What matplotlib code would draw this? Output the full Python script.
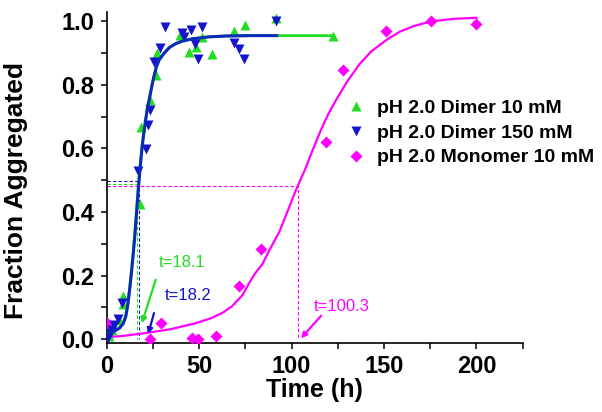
import numpy as np
import matplotlib
matplotlib.use('Agg')
import matplotlib.pyplot as plt
from matplotlib.ticker import MultipleLocator

plt.rcParams['font.family'] = ['Liberation Sans', 'DejaVu Sans']

GREEN = '#22dd22'
BLUE = '#1414cc'
MAGENTA = '#ff00ff'

# measured points
dimer10_t = [1.2, 3, 6.7, 9, 9, 18.1, 18.6, 23.3, 26.6, 27.4, 39.7, 44.6, 48.2,
             51.8, 56.7, 68.6, 74.6, 91.6, 122.3]
dimer10_f = [0.01, 0.03, 0.06, 0.11, 0.135, 0.424, 0.667, 0.753, 0.83, 0.90,
             0.957, 0.904, 0.92, 0.951, 0.897, 0.968, 0.987, 1.01, 0.955]

dimer150_t = [0.5, 1.5, 2.7, 4, 6, 8.5, 17.2, 21.5, 22.5, 23.5, 25.6, 28.7, 31.4,
              40.6, 41.9, 45.5, 47.7, 49.5, 51.3, 68.6, 71.7, 74.4, 91.6]
dimer150_f = [0.005, 0.02, 0.03, 0.045, 0.065, 0.115, 0.53, 0.597, 0.674, 0.722,
              0.873, 0.917, 0.983, 0.962, 0.952, 0.973, 0.928, 0.88, 0.981,
              0.933, 0.912, 0.88, 1.0]

mono_t = [0, 1, 23.3, 29.3, 46.4, 49.5, 59.1, 71.7, 83.5, 118.7, 127.7, 151.2,
          175.2, 199.6]
mono_f = [0.052, 0.02, 0.0, 0.05, 0.003, 0.0, 0.011, 0.168, 0.283, 0.621, 0.847,
          0.970, 1.002, 0.991]

# fitted curves
fit10_t = [0, 4, 7, 9, 10.3, 11.5, 12.6, 13.5, 14.4, 15.3, 16.2, 17.1, 18.1, 19.0,
           20.0, 21.1, 22.0, 22.9, 24.4, 25.5, 26.9, 28.5, 31.1, 34, 37.4, 41,
           46.4, 55, 65.4, 78, 92, 105, 122.3]
fit10_f = [0.02, 0.025, 0.037, 0.053, 0.075, 0.115, 0.17, 0.222, 0.278, 0.34,
           0.41, 0.48, 0.548, 0.6, 0.648, 0.692, 0.727, 0.752, 0.797, 0.826,
           0.858, 0.88, 0.90, 0.918, 0.93, 0.938, 0.945, 0.951, 0.954, 0.955,
           0.955, 0.955, 0.955]

fit150_t = [0, 4, 7, 9, 10.3, 11.5, 12.6, 13.5, 14.4, 15.3, 16.2, 17.1, 18.1, 19.0,
            20.0, 21.1, 22.0, 22.9, 24.4, 25.5, 26.9, 28.5, 31.1, 34, 37.4, 41,
            46.4, 55, 65.4, 78, 92]
fit150_f = [0.02, 0.025, 0.035, 0.05, 0.07, 0.11, 0.165, 0.215, 0.27, 0.33, 0.40,
            0.47, 0.54, 0.595, 0.645, 0.69, 0.725, 0.75, 0.795, 0.825, 0.857,
            0.88, 0.90, 0.918, 0.93, 0.938, 0.945, 0.951, 0.954, 0.955, 0.955]

fitmono_t = [0, 10, 23, 35, 48, 56, 63, 68, 73.5, 77, 80, 84.3, 88, 93.4, 98, 102.4,
             107, 111.4, 116, 120, 124.1, 130, 136.7, 143, 151.2, 158.4, 166,
             175.6, 188, 200]
fitmono_f = [0.006, 0.011, 0.021, 0.032, 0.05, 0.065, 0.084, 0.105, 0.139, 0.176,
             0.205, 0.237, 0.28, 0.338, 0.405, 0.47, 0.53, 0.595, 0.66, 0.71,
             0.753, 0.81, 0.865, 0.905, 0.941, 0.967, 0.985, 1.0, 1.008, 1.011]

# half-time guides
half10 = (16.2, 0.487)
half150 = (17.5, 0.499)
halfmono = (103.7, 0.483)

fig = plt.figure(figsize=(6.02, 4.12), dpi=100)
ax = fig.add_axes([0.1772, 0.1682, 0.6911, 0.8032])

dash = (0, (3, 2))
ax.plot([0, half150[0], half150[0]], [half150[1], half150[1], 0], ls=dash,
        color=BLUE, lw=0.8)
ax.plot([0, half10[0], half10[0]], [half10[1], half10[1], 0], ls=dash,
        color=GREEN, lw=0.8)
ax.plot([0, halfmono[0], halfmono[0]], [halfmono[1], halfmono[1], 0], ls=dash,
        color=MAGENTA, lw=0.8)

ax.plot(fit10_t, fit10_f, color=GREEN, lw=2.0)
ax.plot(fitmono_t, fitmono_f, color=MAGENTA, lw=1.6)

ax.plot(mono_t, mono_f, 'D', color=MAGENTA, ms=6.3, mec='none',
        label='pH 2.0 Monomer 10 mM', zorder=3)
ax.plot(dimer10_t, dimer10_f, '^', color=GREEN, ms=7.5, mec='none',
        label='pH 2.0 Dimer 10 mM', zorder=3)
ax.plot(dimer150_t, dimer150_f, 'v', color=BLUE, ms=7.5, mec='none',
        label='pH 2.0 Dimer 150 mM', zorder=3)
ax.plot(fit150_t, fit150_f, color='#0a2ab8', lw=2.2, zorder=4)

# annotations
ax.text(28.3, 0.24, 't=18.1', color=GREEN, fontsize=12, va='center')
ax.text(31.6, 0.137, 't=18.2', color=BLUE, fontsize=12, va='center')
ax.text(111.8, 0.103, 't=100.3', color=MAGENTA, fontsize=12, va='center')
arw = dict(arrowstyle='-|>', lw=1.6, mutation_scale=8, shrinkA=0, shrinkB=0)
ax.annotate('', xy=(19.0, 0.05), xytext=(26.5, 0.187),
            arrowprops=dict(arw, color=GREEN))
ax.annotate('', xy=(22.4, 0.016), xytext=(25.6, 0.082),
            arrowprops=dict(arw, color=BLUE))
ax.annotate('', xy=(105.1, 0.003), xytext=(116, 0.074),
            arrowprops=dict(arw, color=MAGENTA))

ax.set_xlim(0, 225)
ax.set_ylim(-0.011, 1.03)
ax.xaxis.set_major_locator(MultipleLocator(50))
ax.xaxis.set_minor_locator(MultipleLocator(25))
ax.yaxis.set_major_locator(MultipleLocator(0.2))
ax.yaxis.set_minor_locator(MultipleLocator(0.1))
ax.yaxis.set_major_formatter(plt.FormatStrFormatter('%.1f'))
for s in ['top', 'right']:
    ax.spines[s].set_visible(False)
for s in ['left', 'bottom']:
    ax.spines[s].set_linewidth(1.2)
ax.tick_params(which='both', direction='out', length=4.3, width=1.1)
ax.tick_params(which='major', labelsize=17, pad=4.5)
for lab in ax.get_xticklabels() + ax.get_yticklabels():
    lab.set_fontweight('bold')

ax.set_xlabel('Time (h)', fontsize=18, fontweight='bold', labelpad=0)
ax.set_ylabel('Fraction Aggregated', fontsize=19, fontweight='bold')
ax.yaxis.set_label_coords(-0.19, 0.46)

h, l = ax.get_legend_handles_labels()
order = [1, 2, 0]
ax.legend([h[i] for i in order], [l[i] for i in order], frameon=False,
          loc='upper left', bbox_to_anchor=(0.5748, 0.7597),
          bbox_transform=fig.transFigure, borderpad=0, borderaxespad=0,
          handlelength=1.0, handletextpad=0.6, labelspacing=0.375,
          prop=dict(size=14, weight='bold'))

fig.savefig('out.png', dpi=100)
